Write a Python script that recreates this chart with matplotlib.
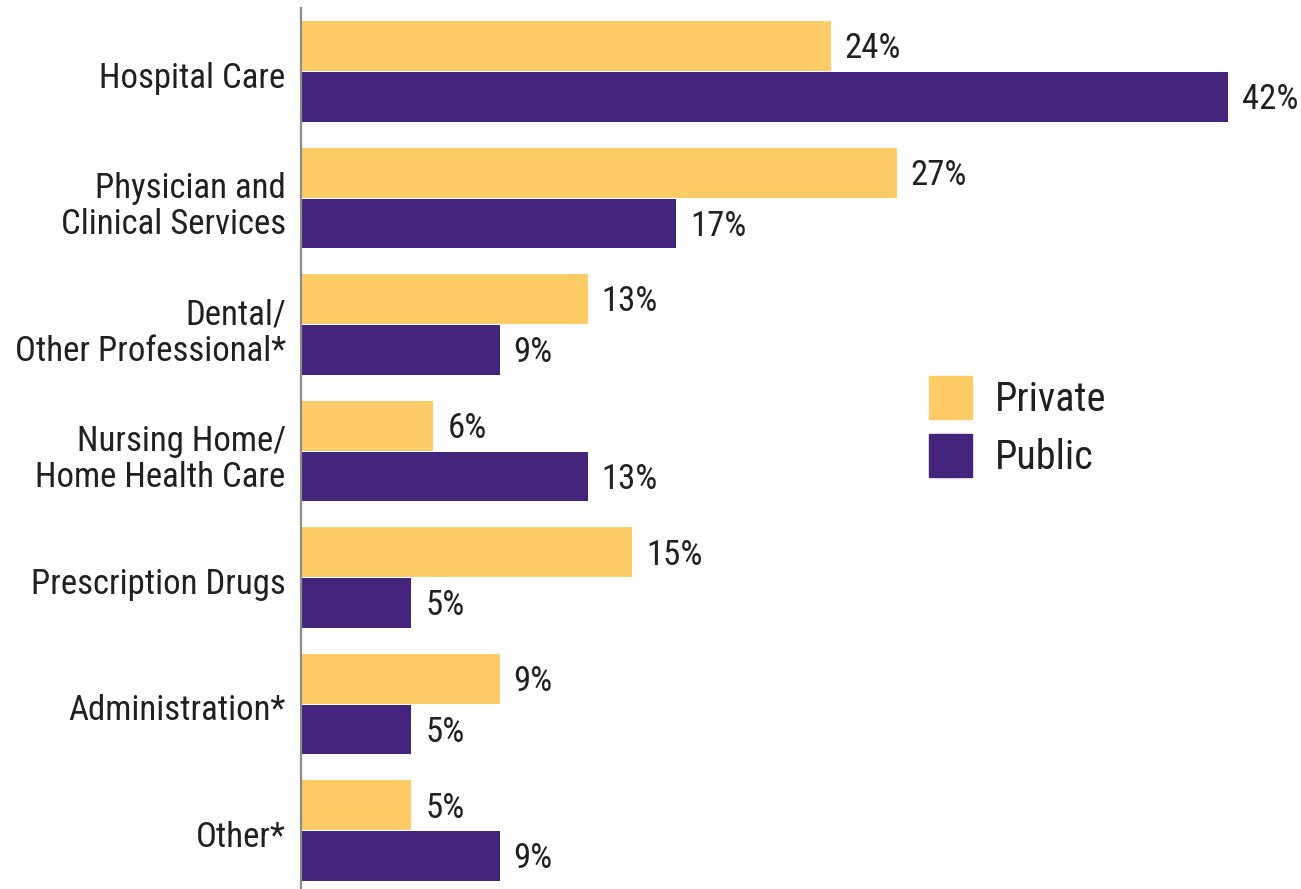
import matplotlib
matplotlib.use("Agg")
import matplotlib.pyplot as plt
import matplotlib.transforms as mtransforms
from matplotlib.patches import Patch

categories = [
    "Hospital Care",
    "Physician and\nClinical Services",
    "Dental/\nOther Professional*",
    "Nursing Home/\nHome Health Care",
    "Prescription Drugs",
    "Administration*",
    "Other*",
]
private = [24, 27, 13, 6, 15, 9, 5]
public = [42, 17, 9, 13, 5, 5, 9]

PRIVATE_COLOR = "#FDCC66"
PUBLIC_COLOR = "#45247D"
TEXT_COLOR = "#231F20"

plt.rcParams["font.family"] = ["Roboto Condensed", "Liberation Sans", "DejaVu Sans"]

W, H = 1301, 889
fig = plt.figure(figsize=(W / 100, H / 100), dpi=100)
ax = fig.add_axes([301 / W, 0, 993 / W, 881 / H])

y = list(range(len(categories)))
ax.barh([v - 0.2 for v in y], private, height=0.392, color=PRIVATE_COLOR)
ax.barh([v + 0.2 for v in y], public, height=0.392, color=PUBLIC_COLOR)

# value labels just past the end of each bar
for i, (a, b) in enumerate(zip(private, public)):
    ax.annotate(f"{a}%", (a, i - 0.2), xytext=(10, -2), textcoords="offset points",
                va="center", ha="left", fontsize=25, color=TEXT_COLOR)
    ax.annotate(f"{b}%", (b, i + 0.2), xytext=(10, -2), textcoords="offset points",
                va="center", ha="left", fontsize=25, color=TEXT_COLOR)

ax.set_xlim(0, 45)
ax.set_ylim(6.462, -0.502)
ax.set_yticks(y)
ax.set_yticklabels(categories, fontsize=25, color=TEXT_COLOR, linespacing=1.15)
ax.tick_params(axis="y", length=0, pad=11)
shift = mtransforms.ScaledTranslation(0, -3 / 100, fig.dpi_scale_trans)
for lbl in ax.get_yticklabels():
    lbl.set_transform(lbl.get_transform() + shift)
ax.set_xticks([])
for side in ("top", "right", "bottom"):
    ax.spines[side].set_visible(False)
ax.spines["left"].set_color("#8C8C8C")
ax.spines["left"].set_linewidth(1.6)

handles = [Patch(color=PRIVATE_COLOR), Patch(color=PUBLIC_COLOR)]
fig.legend(handles, ["Private", "Public"], loc="upper left",
           bbox_to_anchor=(929 / W, 1 - 376 / H), frameon=False,
           fontsize=29, handlelength=1.07, handleheight=1.27,
           handletextpad=0.57, labelspacing=0.37, borderpad=0, borderaxespad=0,
           labelcolor=TEXT_COLOR)

fig.savefig("out.png", dpi=100)
